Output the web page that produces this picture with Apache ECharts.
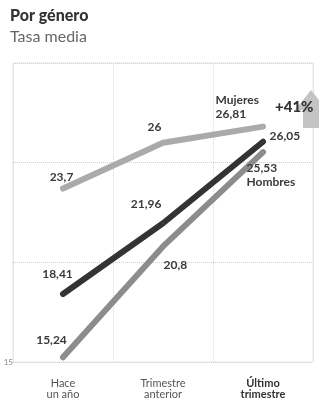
<!DOCTYPE html>
<html>
<head>
<meta charset="utf-8">
<script src="https://cdn.jsdelivr.net/npm/echarts@6/dist/echarts.min.js"></script>
<style>
  html, body { margin: 0; padding: 0; background: #fff; }
  #chart { width: 319px; height: 400px; }
</style>
</head>
<body>
<div id="chart"></div>
<script>
  // data
  const categories = ['Hace\nun año', 'Trimestre\nanterior', 'Último\ntrimestre']
  const mujeres = [23.7, 26, 26.81]
  const total = [18.41, 21.96, 26.05]
  const hombres = [15.24, 20.8, 25.53]
  const yTicks = [15]

  const fmt = v => String(v).replace('.', ',')

  // label placement per point: [dx, dy, align]
  function labelled (values, places, extra) {
    return values.map((v, i) => {
      const p = places[i]
      return {
        value: v,
        label: {
          show: true,
          position: [p[0], p[1]],
          align: p[2],
          verticalAlign: 'middle',
          formatter: (extra && extra[i]) ? extra[i] : fmt(v),
          color: '#3a3a3a',
          fontFamily: 'Lato',
          fontWeight: 'bold',
          fontSize: 12,
          lineHeight: 14
        }
      }
    })
  }

  const chart = echarts.init(document.getElementById('chart'))
  chart.setOption({
    animation: false,
    title: [
      {
        text: 'Por género', subtext: 'Tasa media', left: 5, top: 3, itemGap: 5,
        textStyle: { fontFamily: 'Lato', fontWeight: 900, fontSize: 16, color: '#333' },
        subtextStyle: { fontFamily: 'Lato', fontWeight: 'normal', fontSize: 16, color: '#666' }
      },
      {
        text: '+41%', left: 270, top: 95, z: 6,
        textStyle: { fontFamily: 'Lato', fontWeight: 900, fontSize: 15, color: '#333' }
      }
    ],
    grid: {
      left: 13, right: 6, top: 63, bottom: 38,
      show: true, borderColor: '#e8e8e8', borderWidth: 1
    },
    graphic: [
      {
        type: 'polygon', z: 1,
        shape: { points: [[303, 128], [303, 110], [295, 110], [311, 90], [327, 110], [319, 110], [319, 128]] },
        style: { fill: '#c4c4c4' }
      }
    ],
    xAxis: {
      type: 'category',
      data: categories,
      boundaryGap: true,
      axisLine: { show: false },
      axisTick: { show: false },
      axisLabel: {
        color: '#555', fontFamily: 'Lato', fontSize: 11, lineHeight: 11, margin: 16,
        formatter: (v, i) => i === 2 ? '{b|' + v.split('\n').join('}\n{b|') + '}' : v,
        rich: { b: { fontWeight: 'bold', color: '#333', fontFamily: 'Lato', fontSize: 11, lineHeight: 11 } }
      },
      splitLine: { show: true, lineStyle: { color: '#d8d8d8', type: 'dotted' } }
    },
    yAxis: {
      type: 'value',
      min: 15, max: 30, interval: 5,
      axisLine: { show: false },
      axisTick: { show: false },
      axisLabel: {
        margin: 0, color: '#888', fontFamily: 'Lato', fontSize: 8,
        formatter: v => yTicks.indexOf(v) >= 0 ? String(v) : ''
      },
      splitLine: { lineStyle: { color: '#cfcfcf', type: 'dotted' } }
    },
    series: [
      {
        name: 'Mujeres', type: 'line', symbolSize: 1,
        itemStyle: { color: '#aaaaaa' },
        lineStyle: { width: 6, color: '#aaaaaa', cap: 'round' },
        data: labelled(mujeres, [[0, -10, 'center'], [0, -14, 'right'], [-46, -18, 'left']],
          [null, null, 'Mujeres\n' + fmt(mujeres[2])])
      },
      {
        name: 'Hombres', type: 'line', symbolSize: 1,
        itemStyle: { color: '#8c8c8c' },
        lineStyle: { width: 6, color: '#8c8c8c', cap: 'round' },
        data: labelled(hombres, [[-10, -16, 'center'], [2, 20, 'left'], [-15, 25, 'left']],
          [null, null, fmt(hombres[2]) + '\nHombres'])
      },
      {
        name: 'Total', type: 'line', symbolSize: 1,
        itemStyle: { color: '#333333' },
        lineStyle: { width: 6, color: '#333333', cap: 'round' },
        data: labelled(total, [[-4, -18, 'center'], [0, -18, 'right'], [8, -4, 'left']])
      }
    ]
  })
</script>
</body>
</html>
